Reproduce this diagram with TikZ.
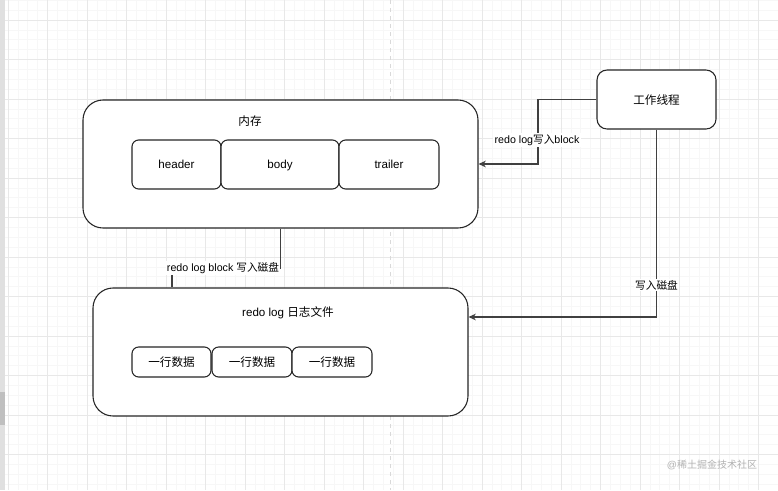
\documentclass[tikz,border=0pt]{standalone}
\usepackage{fontspec}
\setmainfont{Liberation Sans}
\newfontfamily\cjk{Noto Sans CJK SC}
\usetikzlibrary{arrows.meta}
\newcommand\zh[1]{{\cjk #1}}
\begin{document}
\begin{tikzpicture}[x=0.75pt,y=-0.75pt,
  box/.style={draw=black!85, line width=0.8pt, rounded corners=#1, fill=white, font=\fontsize{8.7}{10}\selectfont, inner sep=0pt, text depth=0pt},
  box/.default=5pt,
  edge/.style={draw=black!75, line width=0.8pt},
  arr/.style={edge, -{Stealth[length=5.5pt,width=5pt]}},
  elabel/.style={fill=white, inner sep=1pt, font=\fontsize{8}{9}\selectfont},
  minorgrid/.style={draw=black!3, line width=0.4pt},
  majorgrid/.style={draw=black!9, line width=0.5pt}]
\useasboundingbox (0,0) rectangle (778,490);
\fill[white] (0,0) rectangle (778,490);
% grid
\foreach \i in {0,...,80} {\draw[minorgrid] ({8+9.875*\i-39.5},0) -- ({8+9.875*\i-39.5},490);}
\foreach \i in {0,...,52} {\draw[minorgrid] (0,{20+9.875*\i-39.5}) -- (778,{20+9.875*\i-39.5});}
\foreach \i in {0,...,19} {\draw[majorgrid] ({8+39.5*\i},0) -- ({8+39.5*\i},490);}
\foreach \i in {0,...,12} {\draw[majorgrid] (0,{20+39.5*\i}) -- (778,{20+39.5*\i});}
\draw[black!15, dashed, line width=0.5pt] (390,0) -- (390,490);
% left strip
\fill[black!12] (0,0) rectangle (5,490);
\fill[black!25] (0,392) rectangle (5,425);

% memory
\node[box=15pt, minimum width=296.25pt, minimum height=96pt] (mem) at (280.5,164) {};
\node[font=\fontsize{8.7}{10}\selectfont] (memt) at (250,121) {\zh{内存}};
\node[box, minimum width=66.75pt, minimum height=36.75pt] (hdr) at (176.5,164.5) {header};
\node[box, minimum width=88.5pt, minimum height=36.75pt] (bdy) at (280,164.5) {body};
\node[box, minimum width=75pt, minimum height=36.75pt] (trl) at (389,164.5) {trailer};

% log file
\node[box=15pt, minimum width=281.25pt, minimum height=96pt] (log) at (280.5,352) {};
\node[font=\fontsize{8.7}{10}\selectfont] (logt) at (288,313) {redo log \zh{日志文件}};
\node[box, minimum width=59.25pt, minimum height=22.5pt] (r1) at (171.5,362) {\zh{一行数据}};
\node[box, minimum width=60pt, minimum height=22.5pt] (r2) at (252,362) {\zh{一行数据}};
\node[box, minimum width=60pt, minimum height=22.5pt] (r3) at (332,362) {\zh{一行数据}};

% worker
\node[box=7.5pt, minimum width=89.25pt, minimum height=44.25pt] (wk) at (656.5,99.5) {\zh{工作线程}};

% edges
\coordinate (k1) at (538,99.5);
\draw[arr] (wk.west) -- (k1) |- (mem.east);
\node[elabel] (l1) at (537,140) {redo log\zh{写入}block};

\coordinate (k2) at (656.5,317);
\draw[arr] (wk.south) -- (k2) -- (log.east |- k2);
\node[elabel] (l2) at (656.5,285) {\zh{写入磁盘}};

\coordinate (k3) at (172,268);
\draw[edge] (mem.south) |- (k3) -- (log.north -| k3);
\node[elabel] (l3) at (223,268) {redo log block \zh{写入磁盘}};

% watermark
\node[text=black!30, font=\fontsize{7.5}{9}\selectfont, inner sep=0pt] (wm) at (712,465) {@\zh{稀土掘金技术社区}};
\end{tikzpicture}
\end{document}
